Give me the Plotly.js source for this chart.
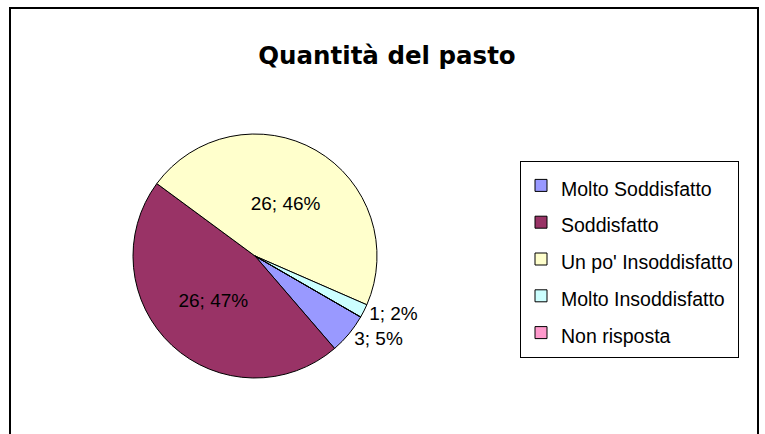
<!DOCTYPE html>
<html>
<head>
<meta charset="utf-8">
<script src="https://cdn.plot.ly/plotly-3.0.1.min.js"></script>
<style>html,body{margin:0;padding:0;background:#fff;}#chart{width:765px;height:434px;}</style>
</head>
<body>
<div id="chart"></div>
<script>
const categories = ["Molto Soddisfatto", "Soddisfatto", "Un po' Insoddisfatto", "Molto Insoddisfatto", "Non risposta"];
const counts = [3, 26, 26, 1, 0];
const percentLabels = [5, 47, 46, 2, 0];
const sliceColors = ["#9999FF", "#993366", "#FFFFCC", "#CCFFFF", "#FF99CC"];
const textPositions = ["outside", "inside", "inside", "outside", "inside"];

const labelText = counts.map((c, i) => c + "; " + percentLabels[i] + "%");
const legendLabels = categories.map(c => '<span style="font-size:19.5px">' + c + '</span>');

const W = 765, H = 434;
const cx = 255, cy = 256, r = 122;

const trace = {
  type: "pie",
  labels: legendLabels,
  values: counts,
  text: labelText,
  texttemplate: "%{text}",
  textinfo: "text",
  textposition: textPositions,
  insidetextorientation: "horizontal",
  textfont: {family: "Liberation Sans, Arial, sans-serif", size: 19, color: "#000"},
  marker: {colors: sliceColors, line: {color: "#000", width: 1}},
  sort: false,
  direction: "clockwise",
  rotation: 120,
  hoverinfo: "none",
  automargin: false,
  domain: {x: [(cx - r) / W, (cx + r) / W], y: [(H - cy - r) / H, (H - cy + r) / H]}
};

const layout = {
  width: W, height: H,
  margin: {l: 0, r: 0, t: 0, b: 0},
  paper_bgcolor: "#fff",
  title: {text: "Quantità del pasto", font: {family: "DejaVu Sans, sans-serif", size: 24.5, color: "#000", weight: "bold"}, x: 387 / W, xanchor: "center", y: 1 - 55 / H, yanchor: "middle"},
  showlegend: true,
  legend: {
    x: 520 / W, xanchor: "left", y: 1 - 161 / H, yanchor: "top",
    bgcolor: "#fff", bordercolor: "#000", borderwidth: 1,
    font: {family: "Liberation Sans, Arial, sans-serif", size: 26, color: "#000"},
    traceorder: "normal"
  },
  shapes: [{type: "rect", xref: "paper", yref: "paper", x0: 10 / W, x1: 758 / W, y0: -0.05, y1: 1 - 8 / H, line: {color: "#000", width: 2}, fillcolor: "rgba(0,0,0,0)"}]
};

Plotly.newPlot("chart", [trace], layout, {displayModeBar: false, staticPlot: true});
</script>
</body>
</html>
